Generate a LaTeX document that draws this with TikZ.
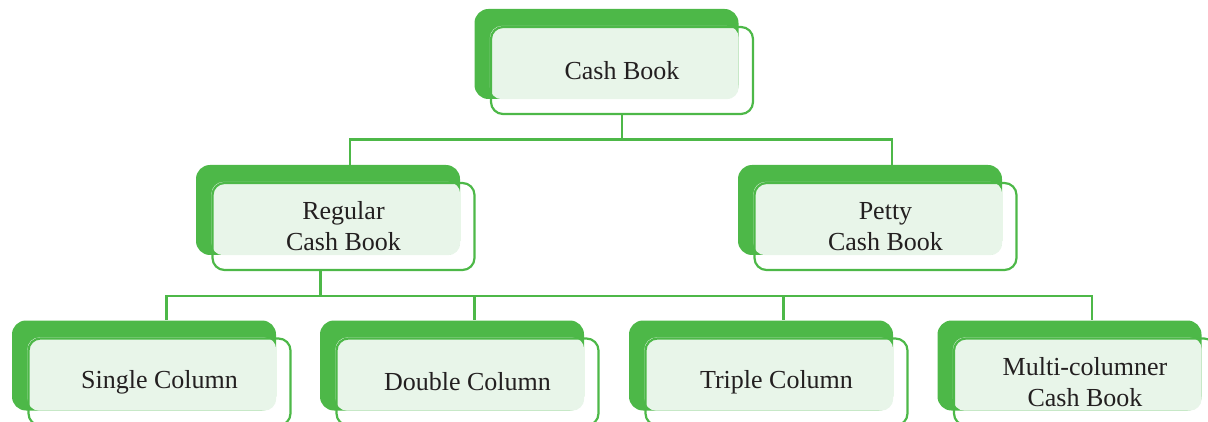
\documentclass[tikz,border=0pt]{standalone}
\usepackage{fontspec}
\setmainfont{Liberation Serif}
\usepackage{tikz}
\definecolor{dkgreen}{RGB}{77,184,72}
\definecolor{ltgreen}{RGB}{232,245,233}
\definecolor{txtgray}{RGB}{35,31,32}
\tikzstyle{back} = [rectangle, rounded corners=14pt, fill=dkgreen,
    minimum width=264pt, minimum height=90pt, inner sep=0pt]
\tikzstyle{front} = [rectangle, rounded corners=12pt, draw=dkgreen,
    line width=2.2pt, minimum width=262pt, minimum height=87pt,
    inner sep=0pt, align=center, text=txtgray,
    font=\fontsize{26}{31}\selectfont]
\tikzstyle{link} = [draw=dkgreen, line width=2.2pt]
\usetikzlibrary{positioning,calc}

\begin{document}
\begin{tikzpicture}[x=1pt,y=-1pt]
    \useasboundingbox (0,0) rectangle (1208,422);
    \clip (0,0) rectangle (1208,422);
    %back boxes
    \node[back] (cashb) at (606.5,54) {};
    \node[back] (regb) at (328,210) {};
    \node[back] (pettyb) at (870,210) {};
    \node[back] (singleb) at (144,365.5) {};
    \node[back] (doubleb) at (452,365.5) {};
    \node[back] (tripleb) at (761,365.5) {};
    \node[back] (multib) at (1069.5,365.5) {};
    %front boxes
    \foreach \n/\t in {cash/Cash Book, reg/Regular\\Cash Book,
        petty/Petty\\Cash Book, single/Single Column, double/Double Column,
        triple/Triple Column, multi/Multi-columner\\Cash Book}
    {\path node[front, draw=none] (\n) at ($(\n b)+(15.5,16.5)$) {};
    \fill[ltgreen, rounded corners=12pt] (\n.north west) rectangle (\n b.south east);
    \node[front] at (\n) {\t};}
    %connectors
    \coordinate (top) at ($(cash.south)+(0,24.5)$);
    \draw[link] (cash.south) -- (top);
    \draw[link] (top) -| ([xshift=22pt]regb.north);
    \draw[link] (top) -| ([xshift=22pt]pettyb.north);
    \coordinate (mid) at ($([xshift=-23pt]reg.south)+(0,25)$);
    \draw[link] ([xshift=-23pt]reg.south) -- (mid);
    \foreach \n in {singleb, doubleb, tripleb, multib}
    {\draw[link] (mid) -| ([xshift=22.5pt]\n.north);}
\end{tikzpicture}
\end{document}
